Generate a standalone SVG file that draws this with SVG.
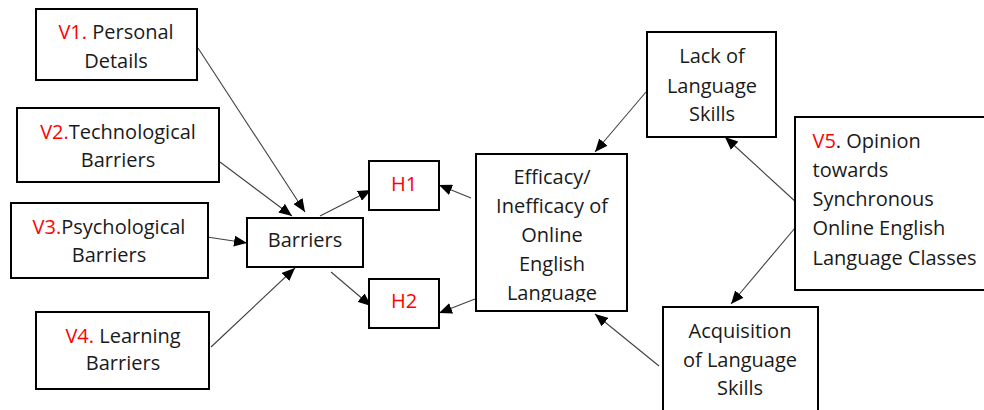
<svg xmlns="http://www.w3.org/2000/svg" width="984" height="410" viewBox="0 0 984 410">
<style>
.box{fill:#fff;stroke:#000;stroke-width:2}
.t{font-family:"Open Sans","Liberation Sans",sans-serif;font-size:20px;fill:#1a1a1a}
.c{text-anchor:middle}
.r{fill:#ff0000}
.ln{stroke:#404040;stroke-width:1.1;fill:none;marker-end:url(#ah)}
</style>
<defs>
<marker id="ah" markerUnits="userSpaceOnUse" markerWidth="13" markerHeight="11" refX="13" refY="5.5" orient="auto">
<path d="M0,0 L13,5.5 L0,11 z" fill="#000"/>
</marker>
<clipPath id="effclip"><rect x="476" y="154" width="152" height="148"/></clipPath>
</defs>
<rect width="984" height="410" fill="#fff"/>
<g id="connectors">
<path class="ln" d="M198,48 L305,212"/>
<path class="ln" d="M220,162 L292,216"/>
<path class="ln" d="M207,237 L247,243"/>
<path class="ln" d="M211,347 L295,268"/>
<path class="ln" d="M320,216 L371,190"/>
<path class="ln" d="M331,272 L371,306"/>
<path class="ln" d="M471,198 L439,185"/>
<path class="ln" d="M475,299 L439,313"/>
<path class="ln" d="M646,92 L595,152"/>
<path class="ln" d="M659,366 L595,314"/>
<path class="ln" d="M797,203 L725,137"/>
<path class="ln" d="M795,228 L731,304"/>
</g>
<g id="v1">
<rect class="box" x="36" y="9" width="161" height="71"/>
<text class="t c" x="116" y="39"><tspan class="r">V1.</tspan> Personal</text>
<text class="t c" x="116" y="67.5">Details</text>
</g>
<g id="v2">
<rect class="box" x="17" y="108" width="202" height="74"/>
<text class="t c" x="118" y="139"><tspan class="r">V2.</tspan>Technological</text>
<text class="t c" x="118" y="166.5">Barriers</text>
</g>
<g id="v3">
<rect class="box" x="11" y="203" width="197" height="75"/>
<text class="t c" x="109" y="234"><tspan class="r">V3.</tspan>Psychological</text>
<text class="t c" x="109" y="262">Barriers</text>
</g>
<g id="v4">
<rect class="box" x="36" y="312" width="173" height="77"/>
<text class="t c" x="123" y="343"><tspan class="r">V4.</tspan> Learning</text>
<text class="t c" x="123" y="370">Barriers</text>
</g>
<g id="barriers">
<rect class="box" x="247" y="218" width="116" height="49"/>
<text class="t c" x="305" y="247">Barriers</text>
</g>
<g id="h1">
<rect class="box" x="369" y="161" width="70" height="49"/>
<text class="t c r" x="404" y="191">H1</text>
</g>
<g id="h2">
<rect class="box" x="369" y="279" width="70" height="49"/>
<text class="t c r" x="404" y="308">H2</text>
</g>
<g id="efficacy">
<rect class="box" x="476" y="154" width="151" height="157"/>
<g clip-path="url(#effclip)">
<text class="t c" x="552" y="184">Efficacy/</text>
<text class="t c" x="552" y="213">Inefficacy of</text>
<text class="t c" x="552" y="242">Online</text>
<text class="t c" x="552" y="271">English</text>
<text class="t c" x="552" y="300">Language</text>
</g>
</g>
<g id="lack">
<rect class="box" x="647" y="32" width="129" height="105"/>
<text class="t c" x="712" y="63">Lack of</text>
<text class="t c" x="712" y="92.5">Language</text>
<text class="t c" x="712" y="120.5">Skills</text>
</g>
<g id="v5">
<rect class="box" x="795" y="117" width="200" height="173"/>
<text class="t" x="812.5" y="148"><tspan class="r">V5</tspan>. Opinion</text>
<text class="t" x="812.5" y="177">towards</text>
<text class="t" x="812.5" y="205.5">Synchronous</text>
<text class="t" x="812.5" y="235">Online English</text>
<text class="t" x="812.5" y="265">Language Classes</text>
</g>
<g id="acquisition">
<rect class="box" x="663" y="307" width="155" height="110"/>
<text class="t c" x="740" y="338">Acquisition</text>
<text class="t c" x="740" y="366.5">of Language</text>
<text class="t c" x="740" y="395">Skills</text>
</g>
</svg>
